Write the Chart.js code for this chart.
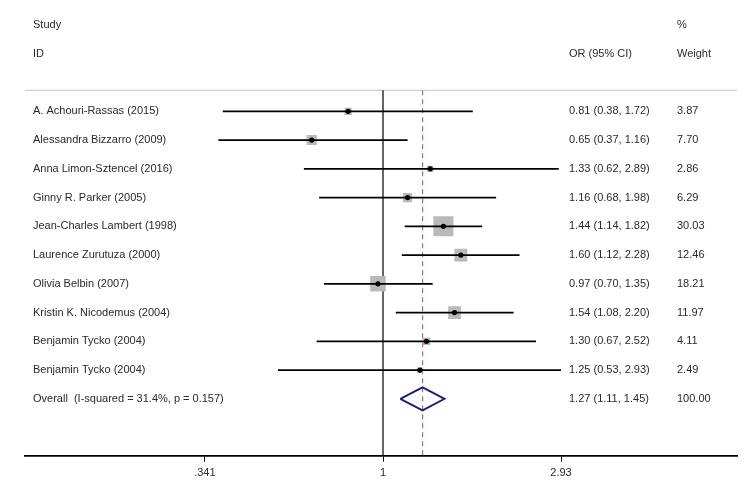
<!DOCTYPE html>
<html>
<head>
<meta charset="utf-8">
<script src="https://cdn.jsdelivr.net/npm/chart.js@4"></script>
<style>
  body { margin: 0; background: #fff; }
  #wrap { width: 756px; height: 503px; }
</style>
</head>
<body>
<div id="wrap"><canvas id="forestChart"></canvas></div>
<script>
const studies = [
    "A. Achouri-Rassas (2015)",
    "Alessandra Bizzarro (2009)",
    "Anna Limon-Sztencel (2016)",
    "Ginny R. Parker (2005)",
    "Jean-Charles Lambert (1998)",
    "Laurence Zurutuza (2000)",
    "Olivia Belbin (2007)",
    "Kristin K. Nicodemus (2004)",
    "Benjamin Tycko (2004)",
    "Benjamin Tycko (2004)"
];
const oddsRatio = [0.81, 0.65, 1.33, 1.16, 1.44, 1.60, 0.97, 1.54, 1.30, 1.25];
const ciLow = [0.38, 0.37, 0.62, 0.68, 1.14, 1.12, 0.70, 1.08, 0.67, 0.53];
const ciHigh = [1.72, 1.16, 2.89, 1.98, 1.82, 2.28, 1.35, 2.20, 2.52, 2.93];
const weights = [3.87, 7.70, 2.86, 6.29, 30.03, 12.46, 18.21, 11.97, 4.11, 2.49];
const overallLabel = "Overall  (I-squared = 31.4%, p = 0.157)";
const overall = [1.27, 1.11, 1.45, 100.00]; // OR, low, high, weight
const tickValues = [0.341, 1, 2.93];
const tickLabels = [".341", "1", "2.93"];

const fmt = (v) => v.toFixed(2);
const rowOf = (i) => i + 1;
const overallRow = studies.length + 1;

// one line dataset per CI
const ciSets = studies.map((s, i) => ({
    type: "scatter",
    data: [{ x: ciLow[i], y: rowOf(i) }, { x: ciHigh[i], y: rowOf(i) }],
    showLine: true,
    borderColor: "#000",
    borderWidth: 1.7,
    pointRadius: 0,
    order: 1,
}));

const datasets = [
    {
        // point estimates
        type: "scatter",
        data: oddsRatio.map((v, i) => ({ x: v, y: rowOf(i) })),
        pointStyle: "circle",
        pointRadius: 2.6,
        backgroundColor: "#000",
        borderWidth: 0,
        order: 0,
    },
    ...ciSets,
    {
        // weight boxes
        type: "scatter",
        data: oddsRatio.map((v, i) => ({ x: v, y: rowOf(i) })),
        pointStyle: "rect",
        pointRadius: weights.map((w) => (3.65 * Math.sqrt(w)) / Math.SQRT2),
        backgroundColor: "#b9b9b9",
        borderWidth: 0,
        order: 2,
    },
    {
        // overall diamond
        type: "scatter",
        data: [
            { x: overall[1], y: overallRow },
            { x: overall[0], y: overallRow - 0.4 },
            { x: overall[2], y: overallRow },
            { x: overall[0], y: overallRow + 0.4 },
            { x: overall[1], y: overallRow },
        ],
        showLine: true,
        borderColor: "#1e1e70",
        borderWidth: 1.8,
        pointRadius: 0,
        order: 1,
    },
    {
        // null line
        type: "scatter",
        data: [{ x: 1, y: 0.27 }, { x: 1, y: 13 }],
        showLine: true,
        borderColor: "#000",
        borderWidth: 1.2,
        pointRadius: 0,
        order: 3,
    },
    {
        // overall effect line
        type: "scatter",
        data: [{ x: overall[0], y: 0.27 }, { x: overall[0], y: 13 }],
        showLine: true,
        borderColor: "#a86a80",
        borderWidth: 1.2,
        borderDash: [5, 4],
        pointRadius: 0,
        order: 3,
    },
];

const textPlugin = {
    id: "forestText",
    beforeDatasetsDraw(chart) {
        const { ctx, chartArea, scales } = chart;
        const y = scales.y.getPixelForValue(0.27);
        ctx.save();
        ctx.strokeStyle = "#cfcfcf";
        ctx.lineWidth = 1.2;
        ctx.beginPath();
        ctx.moveTo(chartArea.left, y);
        ctx.lineTo(chartArea.right, y);
        ctx.stroke();
        ctx.restore();
    },
    afterDatasetsDraw(chart) {
        const { ctx, scales } = chart;
        const ys = scales.y;
        ctx.save();
        ctx.font = "11px 'Liberation Sans', Arial, sans-serif";
        ctx.fillStyle = "#2a2a2a";
        ctx.textBaseline = "middle";
        ctx.textAlign = "left";
        ctx.fillText("Study", 33, ys.getPixelForValue(-2));
        ctx.fillText("ID", 33, ys.getPixelForValue(-1));
        ctx.fillText("%", 677, ys.getPixelForValue(-2));
        ctx.fillText("OR (95% CI)", 569, ys.getPixelForValue(-1));
        ctx.fillText("Weight", 677, ys.getPixelForValue(-1));
        studies.forEach((s, i) => {
            const py = ys.getPixelForValue(rowOf(i));
            ctx.fillText(s, 33, py);
            ctx.fillText(`${fmt(oddsRatio[i])} (${fmt(ciLow[i])}, ${fmt(ciHigh[i])})`, 569, py);
            ctx.fillText(fmt(weights[i]), 677, py);
        });
        const oy = ys.getPixelForValue(overallRow);
        ctx.fillText(overallLabel, 33, oy);
        ctx.fillText(`${fmt(overall[0])} (${fmt(overall[1])}, ${fmt(overall[2])})`, 569, oy);
        ctx.fillText(fmt(overall[3]), 677, oy);
        ctx.restore();
    },
};

Chart.defaults.font.family = "'Liberation Sans', Arial, sans-serif";
Chart.defaults.font.size = 11;
Chart.defaults.color = "#2a2a2a";

const ctx = document.getElementById("forestChart").getContext("2d");
const forestChart = new Chart(ctx, {
    type: "scatter",
    data: { datasets: datasets },
    options: {
        responsive: true,
        maintainAspectRatio: false,
        animation: false,
        layout: { padding: { left: 25, right: 19, top: 0, bottom: 18 } },
        plugins: { legend: { display: false }, tooltip: { enabled: false } },
        scales: {
            x: {
                type: "logarithmic",
                min: 0.1151,
                max: 8.48,
                afterBuildTicks: (scale) => {
                    scale.ticks = tickValues.map((v) => ({ value: v }));
                },
                ticks: {
                    autoSkip: false,
                    maxRotation: 0,
                    padding: 5,
                    color: "#2a2a2a",
                    callback: (v) => tickLabels[tickValues.indexOf(v)] ?? "",
                },
                grid: {
                    drawOnChartArea: false,
                    drawTicks: true,
                    tickLength: 6,
                    color: "#000",
                },
                border: { display: true, color: "#000", width: 1.8 },
            },
            y: {
                type: "linear",
                reverse: true,
                min: -2.378,
                max: 12.98,
                display: false,
            },
        },
    },
    plugins: [textPlugin],
});
</script>
</body>
</html>
